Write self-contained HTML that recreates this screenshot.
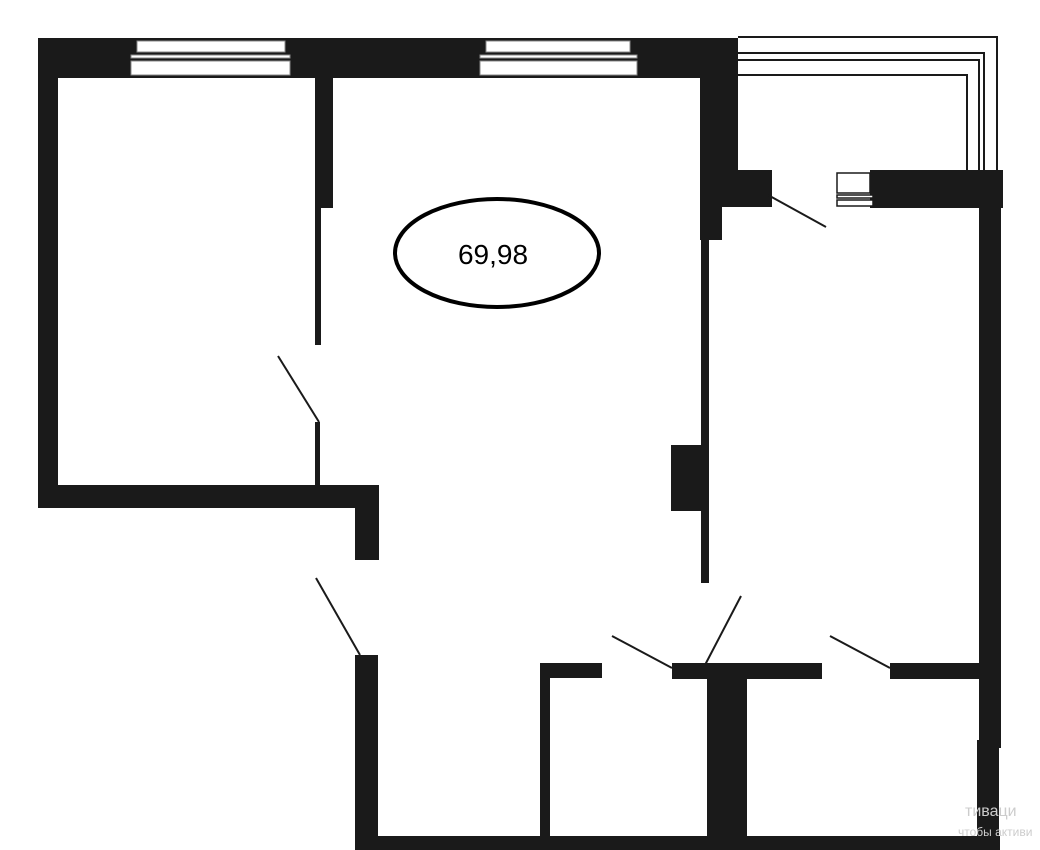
<!DOCTYPE html>
<html><head><meta charset="utf-8"><style>html,body{margin:0;padding:0;background:#fff}svg{display:block}</style></head>
<body>
<svg width="1040" height="850" viewBox="0 0 1040 850" xmlns="http://www.w3.org/2000/svg">
<g fill="#1a1a1a">
<rect x="38" y="38" width="700" height="40"/>
<rect x="38" y="38" width="20" height="470"/>
<rect x="38" y="485" width="341" height="23"/>
<rect x="355" y="485" width="24" height="75"/>
<rect x="315" y="78" width="18" height="130"/>
<rect x="315" y="208" width="6" height="137"/>
<rect x="315" y="422" width="5" height="63"/>
<rect x="700" y="38" width="38" height="132"/>
<rect x="700" y="170" width="72" height="37"/>
<rect x="700" y="207" width="22" height="33"/>
<rect x="701" y="240" width="8" height="343"/>
<rect x="671" y="445" width="30" height="66"/>
<rect x="870" y="170" width="133" height="38"/>
<rect x="979" y="208" width="22" height="540"/>
<rect x="977" y="740" width="22" height="110"/>
<rect x="355" y="655" width="23" height="195"/>
<rect x="355" y="836" width="645" height="14"/>
<rect x="540" y="663" width="62" height="15"/>
<rect x="540" y="663" width="10" height="180"/>
<rect x="672" y="663" width="150" height="16"/>
<rect x="707" y="663" width="40" height="187"/>
<rect x="890" y="663" width="90" height="16"/>
</g>
<g fill="#fff" stroke="#888" stroke-width="1">
<rect x="137" y="41" width="148" height="11"/>
<rect x="131" y="55" width="159" height="3"/>
<rect x="131" y="61" width="159" height="14"/>
<rect x="486" y="41" width="144" height="11"/>
<rect x="480" y="55" width="157" height="3"/>
<rect x="480" y="61" width="157" height="14"/>
</g>
<g fill="#fff" stroke="#1a1a1a" stroke-width="1.5">
<rect x="837" y="173" width="33" height="20"/>
<rect x="837" y="195" width="36" height="3"/>
<rect x="837" y="200" width="36" height="6"/>
</g>
<g fill="none" stroke="#1a1a1a" stroke-width="2">
<polyline points="738,37 997,37 997,170"/>
<polyline points="738,53 984,53 984,170"/>
<polyline points="738,60 979,60 979,170"/>
<polyline points="738,75 967,75 967,170"/>
</g>
<g stroke="#1a1a1a" stroke-width="2">
<line x1="278" y1="356" x2="319" y2="422"/>
<line x1="768" y1="195" x2="826" y2="227"/>
<line x1="316" y1="578" x2="360" y2="655"/>
<line x1="612" y1="636" x2="672" y2="668"/>
<line x1="741" y1="596" x2="705" y2="665"/>
<line x1="830" y1="636" x2="890" y2="668"/>
</g>
<ellipse cx="497" cy="253" rx="102" ry="54" fill="none" stroke="#000" stroke-width="4"/>
<text x="493" y="264" font-family="Liberation Sans, sans-serif" font-size="28" text-anchor="middle" fill="#000">69,98</text>
<text x="965" y="816" font-family="Liberation Sans, sans-serif" font-size="16" fill="#ccc">тиваци</text>
<text x="958" y="836" font-family="Liberation Sans, sans-serif" font-size="12" fill="#ccc">чтобы активи</text>
</svg>
</body></html>
